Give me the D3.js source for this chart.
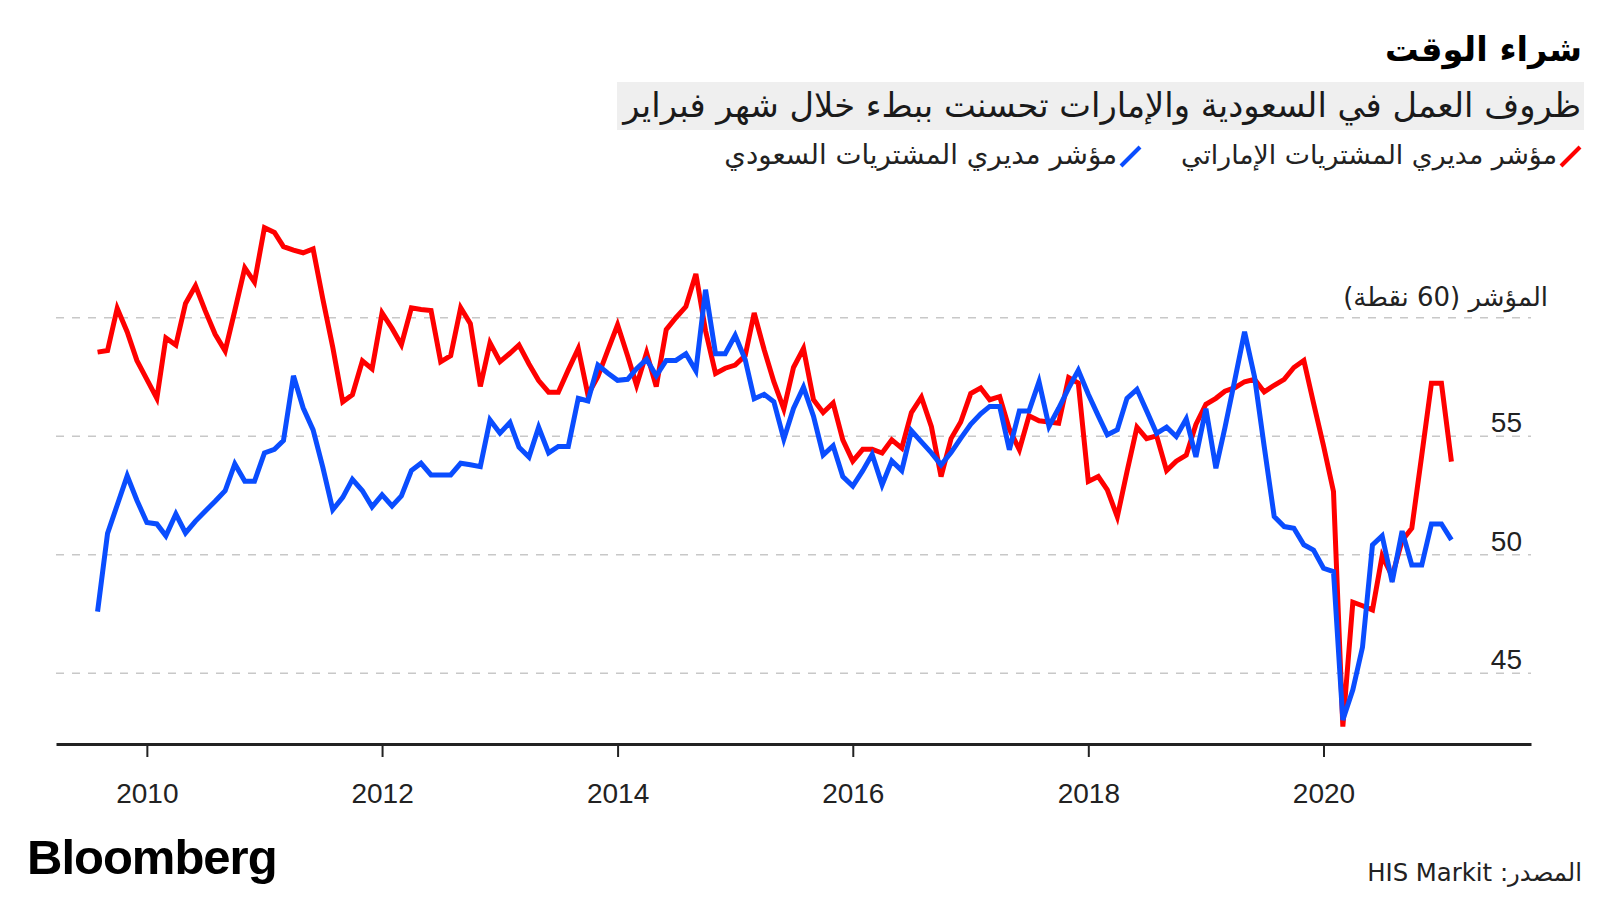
<!DOCTYPE html>
<html><head><meta charset="utf-8">
<script src="https://cdn.jsdelivr.net/npm/d3@7"></script>
<style>
body{margin:0;background:#fff;}
svg{display:block;}
text{font-family:"DejaVu Sans","Noto Sans",sans-serif;}
</style></head><body>
<svg id="chart" width="1600" height="900"></svg>
<script>
// ---- data ----
const firstMonth = "2009-08-01";
const lastMonth = "2021-02-01";
// red series (labelled UAE PMI in the legend)
const uaeValues = [
58.55,58.62,60.4,59.4,58.2,57.4,56.6,59.15,58.85,60.6,
61.35,60.3,59.3,58.6,60.3,62.1,61.5,63.8,63.6,63.0,
62.85,62.74,62.9,60.8,58.75,56.45,56.75,58.18,57.84,60.2,
59.55,58.86,60.42,60.35,60.3,58.14,58.4,60.42,59.75,57.1,
58.94,58.15,58.5,58.85,58.05,57.35,56.86,56.86,57.8,58.7,
56.75,57.52,58.6,59.7,58.4,57.15,58.52,57.1,59.5,60.0,
60.47,61.85,59.45,57.65,57.87,58.0,58.4,60.2,58.65,57.3,
56.15,57.9,58.7,56.54,56.0,56.4,54.85,53.95,54.45,54.45,
54.29,54.85,54.5,56.0,56.65,55.4,53.3,54.9,55.6,56.8,
57.04,56.54,56.67,55.3,54.43,55.86,55.65,55.6,55.55,57.47,
57.24,53.09,53.3,52.74,51.6,53.5,55.38,54.9,55.02,53.55,
53.95,54.2,55.5,56.35,56.6,56.9,57.05,57.3,57.4,56.87,
57.15,57.4,57.9,58.2,56.4,54.6,52.67,42.75,48.0,47.85,
47.67,49.95,49.1,50.6,51.12,54.2,57.24,57.24,53.93
];
// blue series (labelled Saudi PMI in the legend)
const saudiValues = [
47.6,50.9,52.1,53.33,52.3,51.36,51.3,50.8,51.72,50.92,
51.42,51.84,52.26,52.7,53.83,53.1,53.1,54.3,54.45,54.82,
57.55,56.2,55.27,53.7,51.9,52.42,53.18,52.7,52.02,52.53,
52.06,52.48,53.55,53.86,53.37,53.37,53.37,53.86,53.8,53.72,
55.69,55.13,55.58,54.54,54.12,55.38,54.3,54.57,54.57,56.6,
56.49,58.0,57.67,57.36,57.4,57.85,58.25,57.55,58.2,58.2,
58.48,57.76,61.18,58.48,58.48,59.26,58.24,56.58,56.77,56.46,
54.88,56.17,57.07,55.85,54.21,54.6,53.3,52.9,53.55,54.24,
52.95,53.96,53.55,55.23,54.76,54.3,53.79,54.31,54.91,55.5,
55.95,56.26,56.26,54.43,56.07,56.07,57.3,55.42,56.18,57.03,
57.78,56.77,55.86,55.06,55.27,56.6,56.98,56.07,55.12,55.38,
54.99,55.73,54.13,56.16,53.65,55.36,57.39,59.41,57.5,54.56,
51.61,51.19,51.12,50.42,50.2,49.43,49.29,43.03,44.3,46.1,
50.42,50.8,48.85,51.0,49.57,49.57,51.3,51.3,50.63
];
const gridValues = [45, 50, 55, 60];
const yTickLabels = ["45", "50", "55"];
const yTopLabel = "المؤشر (60 نقطة)";
const xTickYears = [2010, 2012, 2014, 2016, 2018, 2020];
const title = "شراء الوقت";
const subtitle = "ظروف العمل في السعودية والإمارات تحسنت ببطء خلال شهر فبراير";
const legendLabels = ["مؤشر مديري المشتريات الإماراتي", "مؤشر مديري المشتريات السعودي"];
const colors = ["#ff0000", "#0a4dff"];
const source = "المصدر: HIS Markit";
const brand = "Bloomberg";

// ---- build ----
const parse = d3.timeParse("%Y-%m-%d");
const monthDates = d3.timeMonth.range(parse(firstMonth), d3.timeMonth.offset(parse(lastMonth), 1));
const series = [
  monthDates.map((d, i) => ({date: d, v: uaeValues[i]})),
  monthDates.map((d, i) => ({date: d, v: saudiValues[i]}))
];

const svg = d3.select("#chart");
const x = d3.scaleTime().domain([new Date(2009, 2, 25), new Date(2021, 9, 6)]).range([56, 1531]);
const y = d3.scaleLinear().domain([42, 66]).range([744.4, 175.5]);

function fitWidth(sel, width, base) {
  sel.style("font-size", base + "px");
  const w = sel.node().getComputedTextLength();
  sel.style("font-size", (base * width / w) + "px");
}

// gridlines
svg.append("g").selectAll("line").data(gridValues).join("line")
  .attr("x1", 56).attr("x2", 1531)
  .attr("y1", d => y(d)).attr("y2", d => y(d))
  .attr("stroke", "#c8c8c8").attr("stroke-width", 1.6)
  .attr("stroke-dasharray", "8,8");

// y labels
svg.append("g").selectAll("text").data(yTickLabels).join("text")
  .attr("x", 1522).attr("y", d => y(+d) - 4)
  .attr("text-anchor", "end")
  .style("font-family", "'Liberation Sans', Arial, sans-serif")
  .style("font-size", "28px").attr("fill", "#222")
  .text(d => d);

const topLab = svg.append("text")
  .attr("x", 1548).attr("y", y(60) - 12)
  .attr("direction", "rtl").attr("unicode-bidi", "embed")
  .attr("text-anchor", "start").attr("fill", "#222")
  .text(yTopLabel);
fitWidth(topLab, 205, 24);

// x axis
const xAxis = d3.axisBottom(x)
  .tickValues(xTickYears.map(yr => new Date(yr, 0, 1)))
  .tickFormat(d3.timeFormat("%Y"))
  .tickSize(13).tickSizeOuter(0).tickPadding(26);
const ax = svg.append("g").attr("transform", "translate(0,744)").call(xAxis);
ax.select(".domain").attr("stroke", "#222").attr("stroke-width", 3);
ax.selectAll(".tick line").attr("stroke", "#222").attr("stroke-width", 2);
ax.selectAll(".tick text").attr("fill", "#222")
  .style("font-family", "'Liberation Sans', Arial, sans-serif")
  .style("font-size", "28px");

// lines
const line = d3.line().x(d => x(d.date)).y(d => y(d.v));
svg.append("g").selectAll("path").data(series).join("path")
  .attr("d", line)
  .attr("fill", "none")
  .attr("stroke", (d, i) => colors[i])
  .attr("stroke-width", 5)
  .attr("stroke-linejoin", "miter");

// title + subtitle
const t = svg.append("text").attr("x", 1582).attr("y", 61)
  .attr("direction", "rtl").attr("unicode-bidi", "embed").attr("text-anchor", "start")
  .attr("font-weight", "bold").attr("fill", "#000").text(title);
fitWidth(t, 197, 34);

svg.append("rect").attr("x", 617).attr("y", 82).attr("width", 967).attr("height", 48)
  .attr("fill", "#efefef");
const st = svg.append("text").attr("x", 1581).attr("y", 117)
  .attr("direction", "rtl").attr("unicode-bidi", "embed").attr("text-anchor", "start")
  .attr("fill", "#1a1a1a").text(subtitle);
fitWidth(st, 958, 28);

// legend
const legendRight = [1557, 1117];
const legendWidths = [376, 393];
legendLabels.forEach((lab, i) => {
  const r = legendRight[i];
  svg.append("line")
    .attr("x1", r + 4).attr("y1", 166).attr("x2", r + 23).attr("y2", 147)
    .attr("stroke", colors[i]).attr("stroke-width", 4);
  const lt = svg.append("text").attr("x", r).attr("y", 164)
    .attr("direction", "rtl").attr("unicode-bidi", "embed").attr("text-anchor", "start")
    .attr("fill", "#222").text(lab);
  fitWidth(lt, legendWidths[i], 24);
});

// footer
const b = svg.append("text").attr("x", 27).attr("y", 874)
  .style("font-family", "'Liberation Sans', Arial, sans-serif")
  .attr("font-weight", "bold").style("font-size", "49px")
  .attr("letter-spacing", "-1").attr("fill", "#000").text(brand);
const src = svg.append("text").attr("x", 1582).attr("y", 881)
  .attr("direction", "rtl").attr("unicode-bidi", "embed").attr("text-anchor", "start")
  .attr("fill", "#222").text(source);
fitWidth(src, 215, 24);
</script>
</body></html>
